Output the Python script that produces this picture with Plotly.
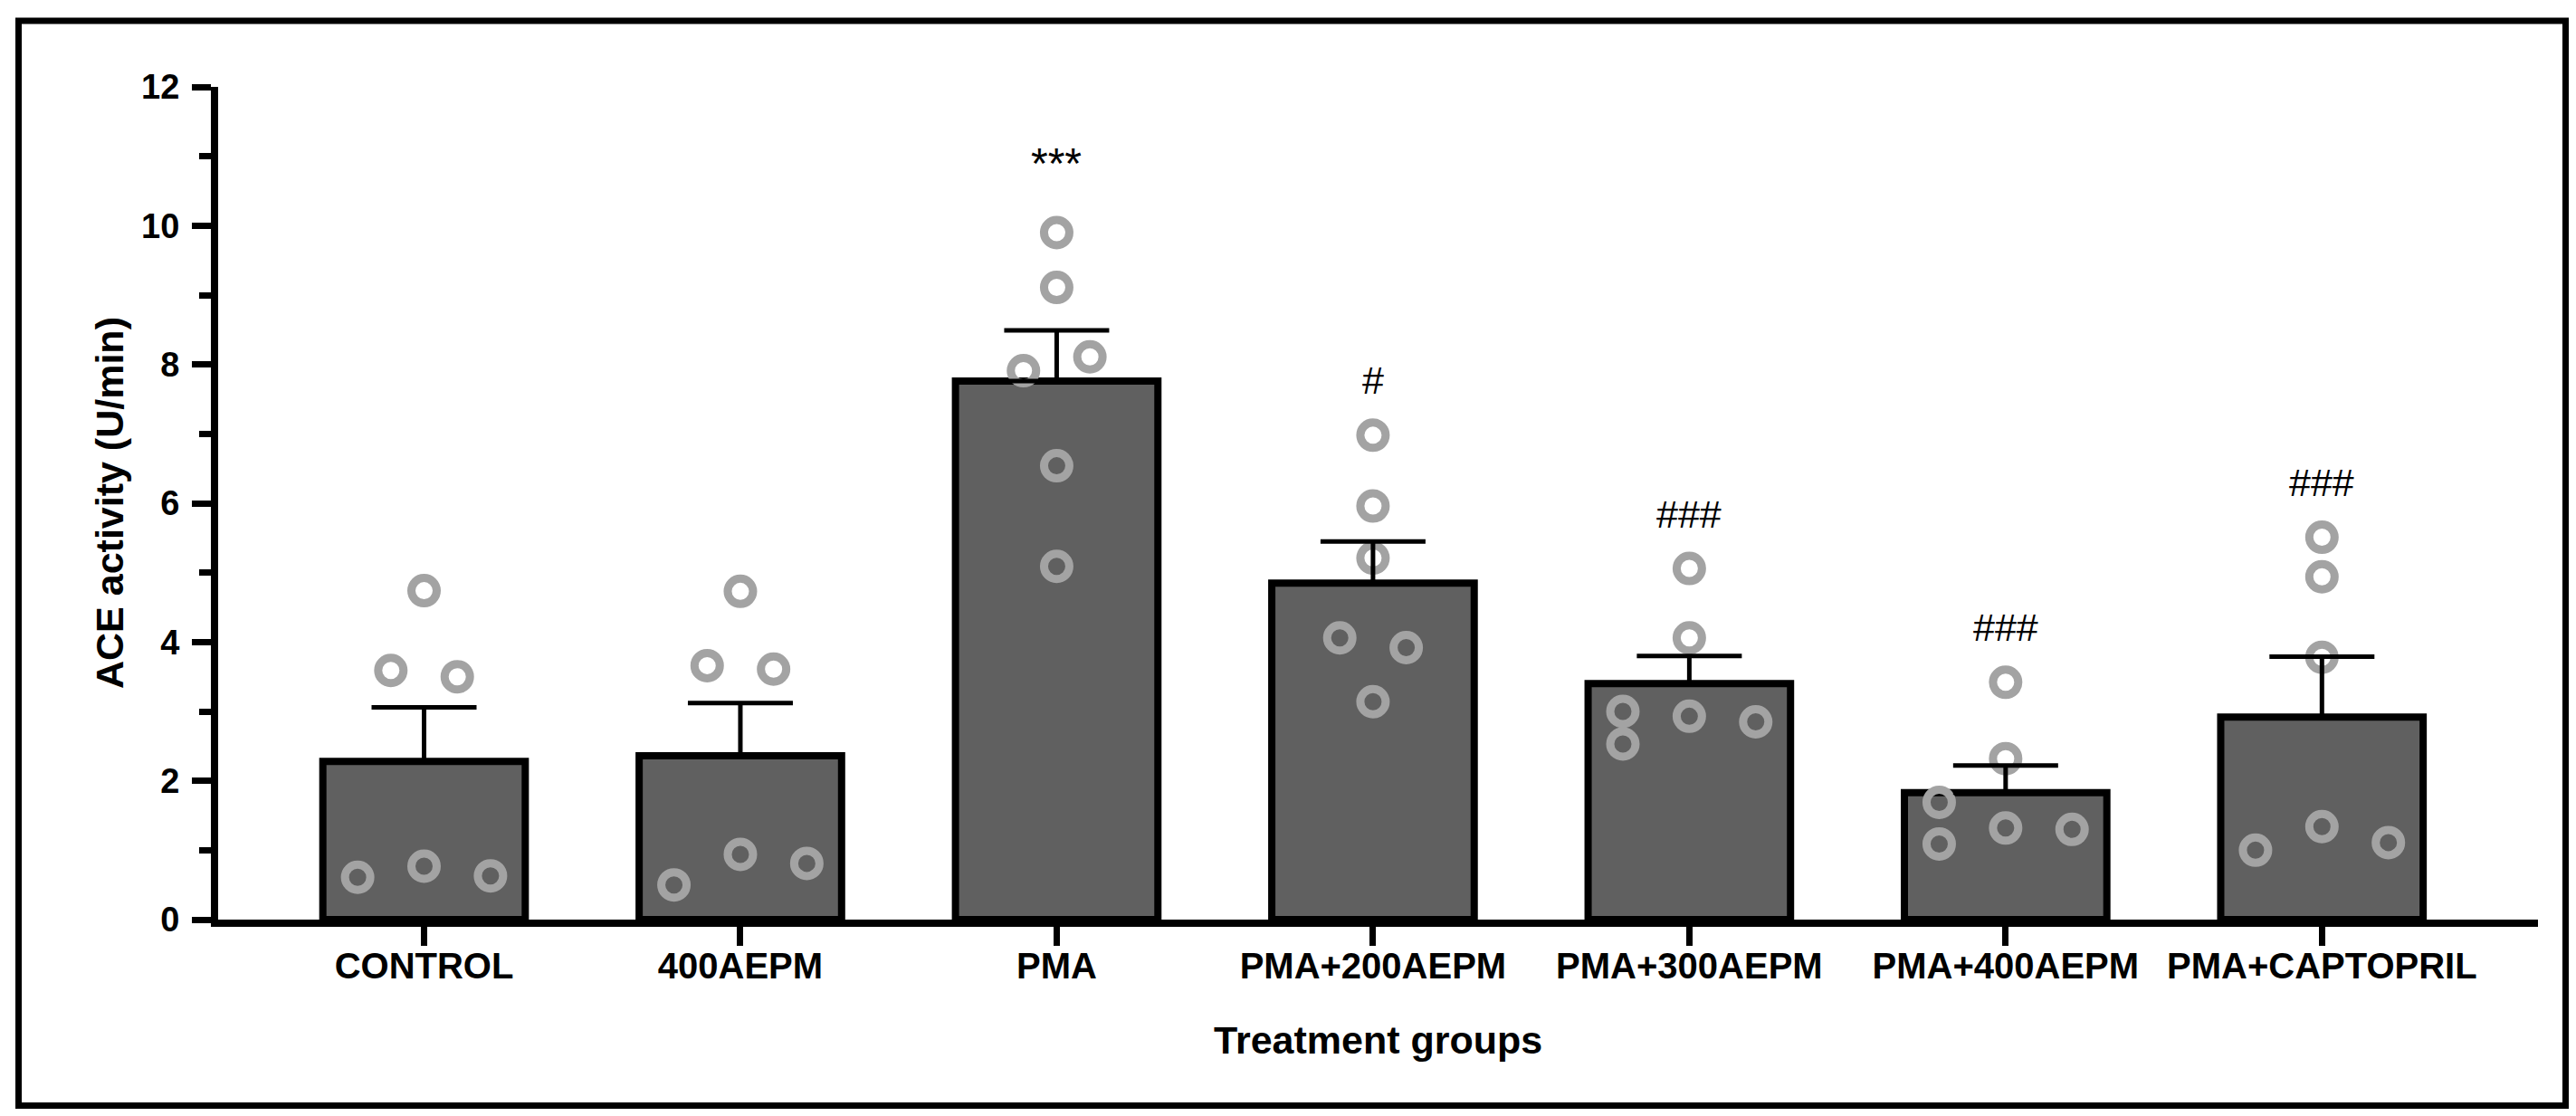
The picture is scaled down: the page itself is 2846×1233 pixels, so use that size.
import plotly.graph_objects as go

# ---------------- data ----------------
groups = ["CONTROL", "400AEPM", "PMA", "PMA+200AEPM", "PMA+300AEPM",
          "PMA+400AEPM", "PMA+CAPTOPRIL"]
means = [2.28, 2.36, 7.76, 4.85, 3.40, 1.83, 2.92]
sem = [0.78, 0.76, 0.73, 0.60, 0.40, 0.39, 0.87]

pts_control = [4.74, 3.59, 3.50, 0.61, 0.77, 0.63]
pts_400aepm = [4.73, 3.66, 3.61, 0.50, 0.94, 0.81]
pts_pma = [9.90, 9.11, 8.11, 7.91, 6.54, 5.09]
pts_pma200 = [6.98, 5.96, 5.21, 4.06, 3.92, 3.14]
pts_pma300 = [5.06, 4.06, 3.00, 2.53, 2.93, 2.85]
pts_pma400 = [3.42, 2.32, 1.69, 1.09, 1.32, 1.30]
pts_capt = [5.51, 4.94, 3.78, 1.34, 1.00, 1.11]

sig_labels = ["", "", "***", "#", "###", "###", "###"]
yticks = [0, 2, 4, 6, 8, 10, 12]

# ---------------- layout helpers (swarm slots, not data) ----------------
swarm_slots = [
    [0, -1, 1, -2, 0, 2],
    [0, -1, 1, -2, 0, 2],
    [0, 0, 1, -1, 0, 0],
    [0, 0, 0, -1, 1, 0],
    [0, 0, -2, -2, 0, 2],
    [0, 0, -2, -2, 0, 2],
    [0, 0, 0, 0, -2, 2],
]
slot_step = 0.105
all_pts = [pts_control, pts_400aepm, pts_pma, pts_pma200, pts_pma300,
           pts_pma400, pts_capt]

FONT = "Liberation Sans, Arial, sans-serif"
W, H = 2846, 1233
L, R, T, B = 233, 50, 88, 225
pw, ph = W - L - R, H - T - B

xpos = list(range(len(groups)))

fig = go.Figure()

fig.add_trace(go.Bar(
    x=xpos, y=means, width=0.64,
    marker=dict(color="#606060", line=dict(color="black", width=8)),
    showlegend=False, hoverinfo="skip",
))

px_list, py_list = [], []
for i, (vals, slots) in enumerate(zip(all_pts, swarm_slots)):
    for v, s in zip(vals, slots):
        px_list.append(i + s * slot_step)
        py_list.append(v)

fig.add_trace(go.Scatter(
    x=px_list, y=py_list, mode="markers",
    marker=dict(symbol="circle-open", size=28, color="#A3A3A3",
                line=dict(width=9, color="#A3A3A3")),
    showlegend=False, hoverinfo="skip", cliponaxis=False,
))

fig.add_trace(go.Scatter(
    x=xpos, y=means, mode="markers",
    marker=dict(size=1, color="rgba(0,0,0,0)"),
    error_y=dict(type="data", array=sem, arrayminus=[0] * len(sem),
                 symmetric=False, color="black", thickness=5, width=58),
    showlegend=False, hoverinfo="skip",
))

annotations = []
for i, lab in enumerate(sig_labels):
    if lab:
        is_star = lab.startswith("*")
        annotations.append(dict(
            x=i, y=max(all_pts[i]) + (0.62 if is_star else 0.45),
            xref="x", yref="y",
            text=lab, showarrow=False, yanchor="bottom",
            font=dict(family=FONT, size=48 if is_star else 43, color="black"),
        ))

annotations.append(dict(
    x=(113 - L) / pw, y=0.5, xref="paper", yref="paper",
    text="<b>ACE activity (U/min)</b>", textangle=-90, showarrow=False,
    xanchor="center", yanchor="middle",
    font=dict(family=FONT, size=43, color="black"),
))
annotations.append(dict(
    x=0.5, y=(H - B - 1141) / ph, xref="paper", yref="paper",
    text="<b>Treatment groups</b>", showarrow=False,
    xanchor="center", yanchor="middle",
    font=dict(family=FONT, size=43, color="black"),
))

fig.update_layout(
    width=W, height=H,
    margin=dict(l=L, r=R, t=T, b=B),
    paper_bgcolor="white", plot_bgcolor="white",
    annotations=annotations,
    shapes=[dict(
        type="rect", xref="paper", yref="paper",
        x0=(12.5 - L) / pw, x1=(2826.5 - L) / pw,
        y0=(H - B - 1213.5) / ph, y1=(H - B - 15) / ph,
        line=dict(color="black", width=7), fillcolor="rgba(0,0,0,0)",
        layer="above",
    )],
)

fig.update_xaxes(
    range=[-0.651, 6.683], tickvals=xpos,
    ticktext=["<b>%s</b>" % g for g in groups],
    showline=True, linecolor="black", linewidth=8,
    ticks="outside", ticklen=21, tickwidth=7, tickcolor="black",
    tickfont=dict(family=FONT, size=40, color="black"),
    ticklabelstandoff=-12,
    showgrid=False, zeroline=False,
)
fig.update_yaxes(
    range=[0, 12], tickvals=yticks,
    ticktext=["<b>%d</b>" % v for v in yticks],
    showline=True, linecolor="black", linewidth=8,
    ticks="outside", ticklen=21, tickwidth=7, tickcolor="black",
    tickfont=dict(family=FONT, size=38, color="black"),
    ticklabelstandoff=6,
    minor=dict(dtick=1, ticks="outside", ticklen=13, tickwidth=7,
               tickcolor="black", showgrid=False),
    showgrid=False, zeroline=False,
)

fig.write_html("out.html")
